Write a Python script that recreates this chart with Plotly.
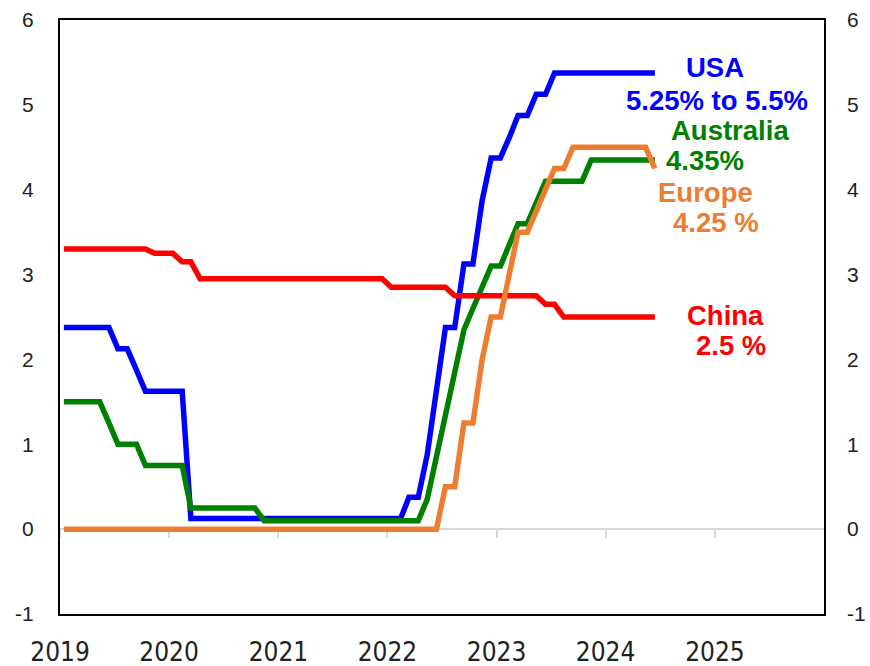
import plotly.graph_objects as go
import pandas as pd

# Monthly policy rates, Jan 2019 - Jun 2024 (%)
months = [d + pd.Timedelta(days=13) for d in pd.date_range("2019-01-01", periods=66, freq="MS")]

usa = [
    2.375, 2.375, 2.375, 2.375, 2.375, 2.375, 2.125, 2.125, 1.875, 1.625, 1.625, 1.625,  # 2019
    1.625, 1.625, 0.125, 0.125, 0.125, 0.125, 0.125, 0.125, 0.125, 0.125, 0.125, 0.125,  # 2020
    0.125, 0.125, 0.125, 0.125, 0.125, 0.125, 0.125, 0.125, 0.125, 0.125, 0.125, 0.125,  # 2021
    0.125, 0.125, 0.375, 0.375, 0.875, 1.625, 2.375, 2.375, 3.125, 3.125, 3.875, 4.375,  # 2022
    4.375, 4.625, 4.875, 4.875, 5.125, 5.125, 5.375, 5.375, 5.375, 5.375, 5.375, 5.375,  # 2023
    5.375, 5.375, 5.375, 5.375, 5.375, 5.375,                                            # 2024
]
australia = [
    1.5, 1.5, 1.5, 1.5, 1.5, 1.25, 1.0, 1.0, 1.0, 0.75, 0.75, 0.75,
    0.75, 0.75, 0.25, 0.25, 0.25, 0.25, 0.25, 0.25, 0.25, 0.25, 0.1, 0.1,
    0.1, 0.1, 0.1, 0.1, 0.1, 0.1, 0.1, 0.1, 0.1, 0.1, 0.1, 0.1,
    0.1, 0.1, 0.1, 0.1, 0.35, 0.85, 1.35, 1.85, 2.35, 2.6, 2.85, 3.1,
    3.1, 3.35, 3.6, 3.6, 3.85, 4.1, 4.1, 4.1, 4.1, 4.1, 4.35, 4.35,
    4.35, 4.35, 4.35, 4.35, 4.35, 4.35,
]
europe = [
    0, 0, 0, 0, 0, 0, 0, 0, 0, 0, 0, 0,
    0, 0, 0, 0, 0, 0, 0, 0, 0, 0, 0, 0,
    0, 0, 0, 0, 0, 0, 0, 0, 0, 0, 0, 0,
    0, 0, 0, 0, 0, 0, 0.5, 0.5, 1.25, 1.25, 2.0, 2.5,
    2.5, 3.0, 3.5, 3.5, 3.75, 4.0, 4.25, 4.25, 4.5, 4.5, 4.5, 4.5,
    4.5, 4.5, 4.5, 4.5, 4.5, 4.25,
]
china = [
    3.3, 3.3, 3.3, 3.3, 3.3, 3.3, 3.3, 3.3, 3.3, 3.3, 3.25, 3.25,
    3.25, 3.15, 3.15, 2.95, 2.95, 2.95, 2.95, 2.95, 2.95, 2.95, 2.95, 2.95,
    2.95, 2.95, 2.95, 2.95, 2.95, 2.95, 2.95, 2.95, 2.95, 2.95, 2.95, 2.95,
    2.85, 2.85, 2.85, 2.85, 2.85, 2.85, 2.85, 2.75, 2.75, 2.75, 2.75, 2.75,
    2.75, 2.75, 2.75, 2.75, 2.75, 2.65, 2.65, 2.5, 2.5, 2.5, 2.5, 2.5,
    2.5, 2.5, 2.5, 2.5, 2.5, 2.5,
]

year_ticks = ["2019-01-01", "2020-01-01", "2021-01-01", "2022-01-01",
              "2023-01-01", "2024-01-01", "2025-01-01"]
year_labels = ["2019", "2020", "2021", "2022", "2023", "2024", "2025"]
y_ticks = [-1, 0, 1, 2, 3, 4, 5, 6]
y_labels = ["-1", "0", "1", "2", "3", "4", "5", "6"]

series = [
    ("USA", usa, "#0000FF"),
    ("Australia", australia, "#008000"),
    ("China", china, "#FF0000"),
    ("Europe", europe, "#ED7D31"),
]

fig = go.Figure()
for name, vals, col in series:
    fig.add_trace(go.Scatter(x=months, y=vals, mode="lines", name=name,
                             line=dict(color=col, width=5.5), showlegend=False,
                             hoverinfo="skip"))

# helper traces for overlay axes
fig.add_trace(go.Scatter(x=[months[0]], y=[None], xaxis="x2", yaxis="y",
                         mode="lines", showlegend=False, hoverinfo="skip"))
fig.add_trace(go.Scatter(x=[months[0]], y=[None], xaxis="x", yaxis="y2",
                         mode="lines", showlegend=False, hoverinfo="skip"))

xr = ["2019-01-01", "2026-01-01"]
fig.update_layout(
    width=870, height=666,
    margin=dict(l=60, r=46, t=20, b=52, autoexpand=False),
    paper_bgcolor="white", plot_bgcolor="white",
    font=dict(family="Liberation Sans, Arial, sans-serif", color="black"),
    xaxis=dict(range=xr, tickvals=year_ticks, ticktext=year_labels, automargin=False,
               showgrid=False, zeroline=False, showline=True, linecolor="black",
               linewidth=2, mirror=True, ticks="", ticklabelstandoff=14,
               tickfont=dict(family="DejaVu Sans Condensed, Liberation Sans Narrow, Arial Narrow, sans-serif",
                             size=26, color="#222222")),
    xaxis2=dict(range=xr, overlaying="x", anchor="free", position=1/7, side="bottom",
                tickvals=year_ticks, showticklabels=False, ticks="outside", automargin=False,
                ticklen=8, tickwidth=2, tickcolor="#D9D9D9", showline=True,
                linecolor="#D9D9D9", linewidth=2, showgrid=False, zeroline=False,
                layer="below traces"),
    yaxis=dict(range=[-1, 6], tickvals=y_ticks, ticktext=y_labels, automargin=False,
               showgrid=False, zeroline=False,
               showline=True, linecolor="black", linewidth=2, mirror=True,
               ticks="", ticklabelstandoff=20, tickfont=dict(size=21, color="#222222")),
    yaxis2=dict(range=[-1, 6], tickvals=y_ticks, ticktext=y_labels, overlaying="y", side="right",
                automargin=False, showgrid=False, zeroline=False, showline=False, ticks="",
                ticklabelstandoff=22, tickfont=dict(size=21, color="#222222")),
)

def px_to_paper(px, py):
    return (px - 60) / 764, (614 - py) / 594

labels = [
    ("USA", 715, 68, "#0000FF"),
    ("5.25% to 5.5%", 717, 100, "#0000FF"),
    ("Australia", 730, 130, "#008000"),
    ("4.35%", 705, 160, "#008000"),
    ("Europe", 705, 192, "#ED7D31"),
    ("4.25 %", 716, 222, "#ED7D31"),
    ("China", 725, 315, "#FF0000"),
    ("2.5 %", 731, 345, "#FF0000"),
]
for txt, px, py, col in labels:
    xp, yp = px_to_paper(px, py)
    fig.add_annotation(text="<b>%s</b>" % txt, x=xp, y=yp, xref="paper", yref="paper",
                       showarrow=False, xanchor="center", yanchor="middle",
                       font=dict(size=27.5, color=col, family="Liberation Sans, Arial, sans-serif"))

fig.write_html("out.html")
